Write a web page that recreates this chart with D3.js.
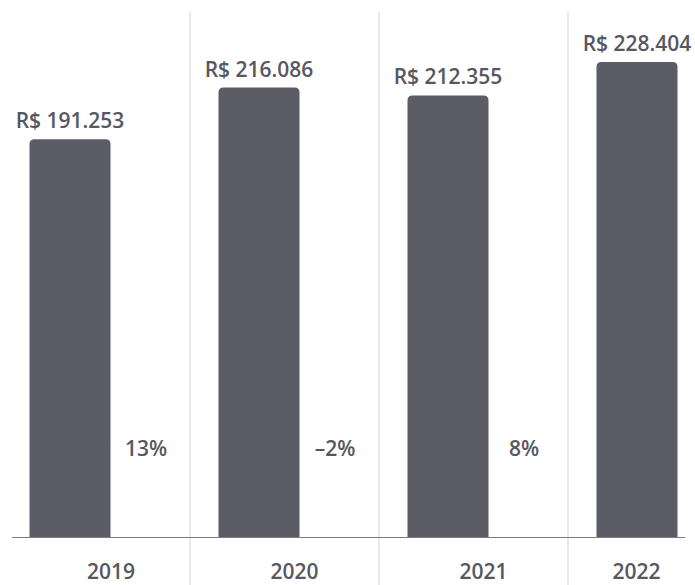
<!DOCTYPE html>
<html>
<head>
<meta charset="utf-8">
<script src="https://cdn.jsdelivr.net/npm/d3@7"></script>
<style>
  body { margin: 0; background: #fff; }
  .val, .pct, .year { font-family: "Open Sans", sans-serif; font-weight: 600; fill: #575761; }
</style>
</head>
<body>
<svg class="chart" width="695" height="585"></svg>
<script>
var years = ["2019", "2020", "2021", "2022"];
var values = [191253, 216086, 212355, 228404];
var valueLabels = ["R$ 191.253", "R$ 216.086", "R$ 212.355", "R$ 228.404"];
var changes = ["13%", "\u20132%", "8%"];

var width = 695, height = 585,
    axisY = 537, left = 12, right = 685;

var svg = d3.select(".chart");

var data = years.map(function(y, i) {
  return {year: y, value: values[i], label: valueLabels[i], change: changes[i]};
});

var x = d3.scalePoint().domain(years).range([70, 637]);
var y = d3.scaleLinear()
    .domain([0, d3.max(values)])
    .range([axisY, 62]);

var barW = 81, r = 5;

// separators between years
var seps = years.slice(0, -1).map(function(d) { return x(d) + 120; });
var edges = [left].concat(seps, [right]);

svg.selectAll(".sep")
    .data(seps)
  .enter().append("line")
    .attr("class", "sep")
    .attr("x1", function(d) { return d; })
    .attr("x2", function(d) { return d; })
    .attr("y1", 12)
    .attr("y2", height)
    .attr("stroke", "#e2e2e2")
    .attr("stroke-width", 1.5);

function barPath(d) {
  var x0 = x(d.year) - barW / 2, x1 = x0 + barW,
      top = y(d.value), bot = y(0);
  return "M" + x0 + "," + bot +
         "V" + (top + r) +
         "Q" + x0 + "," + top + " " + (x0 + r) + "," + top +
         "H" + (x1 - r) +
         "Q" + x1 + "," + top + " " + x1 + "," + (top + r) +
         "V" + bot + "Z";
}

svg.selectAll(".bar")
    .data(data)
  .enter().append("path")
    .attr("class", "bar")
    .attr("fill", "#5c5c66")
    .attr("d", barPath);

svg.append("line")
    .attr("x1", left)
    .attr("x2", right)
    .attr("y1", axisY + 0.5)
    .attr("y2", axisY + 0.5)
    .attr("stroke", "#7a7a80")
    .attr("stroke-width", 1);

svg.selectAll(".val")
    .data(data)
  .enter().append("text")
    .attr("class", "val")
    .attr("x", function(d) { return x(d.year); })
    .attr("y", function(d) { return y(d.value) - 11; })
    .attr("text-anchor", "middle")
    .style("font-size", "21px")
    .text(function(d) { return d.label; });

svg.selectAll(".pct")
    .data(data.filter(function(d) { return d.change; }))
  .enter().append("text")
    .attr("class", "pct")
    .attr("x", function(d) { return x(d.year) + 76; })
    .attr("y", axisY - 81)
    .attr("text-anchor", "middle")
    .style("font-size", "21px")
    .text(function(d) { return d.change; });

svg.selectAll(".year")
    .data(data)
  .enter().append("text")
    .attr("class", "year")
    .attr("x", function(d, i) { return (edges[i] + edges[i + 1]) / 2 + 10; })
    .attr("y", 579)
    .attr("text-anchor", "middle")
    .style("font-size", "21px")
    .text(function(d) { return d.year; });
</script>
</body>
</html>
